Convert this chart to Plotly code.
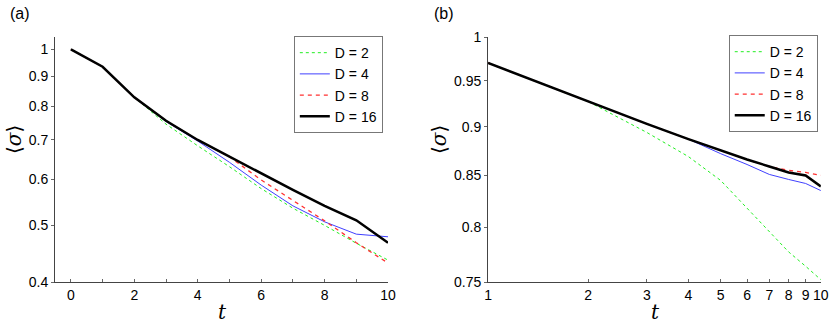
import plotly.graph_objects as go

# panel (a): linear t, log <sigma>
t_a = [0, 1, 2, 3, 4, 5, 6, 7, 8, 9, 10]
a_d2 = [1.0, 0.934, 0.828, 0.745, 0.684, 0.630, 0.578, 0.535, 0.500, 0.466, 0.436]
a_d4 = [1.0, 0.934, 0.828, 0.753, 0.697, 0.641, 0.586, 0.540, 0.507, 0.483, 0.478]
a_d8 = [1.0, 0.934, 0.828, 0.755, 0.700, 0.655, 0.598, 0.552, 0.509, 0.467, 0.431]
a_d16 = [1.0, 0.934, 0.828, 0.755, 0.700, 0.655, 0.613, 0.575, 0.540, 0.510, 0.467]

# panel (b): log t, log <sigma>
t_b = [1, 2, 3, 4, 5, 6, 7, 8, 9, 10]
b_d2 = [0.970, 0.927, 0.894, 0.869, 0.845, 0.818, 0.796, 0.777, 0.764, 0.752]
b_d4 = [0.970, 0.927, 0.903, 0.887, 0.872, 0.861, 0.851, 0.846, 0.842, 0.835]
b_d8 = [0.970, 0.927, 0.903, 0.887, 0.875, 0.866, 0.859, 0.855, 0.853, 0.850]
b_d16 = [0.970, 0.927, 0.903, 0.887, 0.875, 0.866, 0.859, 0.853, 0.850, 0.839]

labels = ["D = 2", "D = 4", "D = 8", "D = 16"]
styles = [
    dict(color="#22ee22", width=1, dash="dot"),
    dict(color="#4040ff", width=1),
    dict(color="#ff3030", width=1.3, dash="4px,4px"),
    dict(color="black", width=2.5),
]

a_ticks = [0.4, 0.5, 0.6, 0.7, 0.8, 0.9, 1]
b_ticks = [0.75, 0.8, 0.85, 0.9, 0.95, 1]

FONT = "Liberation Sans, Arial, sans-serif"

fig = go.Figure()

for name, ys, st in zip(labels, [a_d2, a_d4, a_d8, a_d16], styles):
    fig.add_trace(go.Scatter(x=t_a, y=ys, name=name, mode="lines", line=st,
                             xaxis="x", yaxis="y", legend="legend"))
for name, ys, st in zip(labels, [b_d2, b_d4, b_d8, b_d16], styles):
    fig.add_trace(go.Scatter(x=t_b, y=ys, name=name, mode="lines", line=st,
                             xaxis="x2", yaxis="y2", legend="legend2"))

axis_common = dict(showline=True, linecolor="#444", linewidth=1, showgrid=False,
                   zeroline=False, ticklen=3, tickcolor="#666", automargin=False,
                   tickfont=dict(family=FONT, size=14, color="black"))

leg_common = dict(xanchor="left", yanchor="top", bordercolor="#777", borderwidth=1,
                  bgcolor="white", font=dict(family=FONT, size=14, color="black"),
                  tracegroupgap=0)

fig.update_layout(
    width=830, height=325,
    margin=dict(l=0, r=0, t=0, b=0, autoexpand=False),
    plot_bgcolor="white", paper_bgcolor="white",
    xaxis=dict(domain=[0.0663, 0.4675], range=[-0.5, 10], ticks="inside",
               tickvals=t_a, ticktext=[str(v) if v % 2 == 0 else "" for v in t_a],
               anchor="y", **axis_common),
    yaxis=dict(domain=[0.1323, 0.886], type="log", range=[-0.39794, 0.0212],
               ticks="outside", tickvals=a_ticks, ticktext=[str(v) for v in a_ticks],
               anchor="x", **axis_common),
    xaxis2=dict(domain=[0.588, 0.989], type="log", range=[0, 1], ticks="inside",
                tickvals=t_b, ticktext=[str(v) for v in t_b],
                anchor="y2", **axis_common),
    yaxis2=dict(domain=[0.1323, 0.886], type="log", range=[-0.12494, 0],
                ticks="outside", tickvals=b_ticks, ticktext=[str(v) for v in b_ticks],
                anchor="x2", **axis_common),
    legend=dict(x=0.354, y=0.889, **leg_common),
    legend2=dict(x=0.878, y=0.892, **leg_common),
    showlegend=True,
)

ann = [
    dict(text="(a)", x=8, y=13, font=dict(family=FONT, size=16)),
    dict(text="(b)", x=432, y=13, font=dict(family=FONT, size=16)),
    dict(text="<i>t</i>", x=222, y=312, font=dict(family="DejaVu Serif, serif", size=20)),
    dict(text="<i>t</i>", x=655, y=312, font=dict(family="DejaVu Serif, serif", size=20)),
    dict(text="⟨<i>σ</i>⟩", x=14, y=140, textangle=-90,
         font=dict(family="DejaVu Serif, serif", size=20)),
    dict(text="⟨<i>σ</i>⟩", x=439, y=140, textangle=-90,
         font=dict(family="DejaVu Serif, serif", size=20)),
]
for a in ann:
    fig.add_annotation(text=a["text"], x=a["x"] / 830, y=1 - a["y"] / 325,
                       xref="paper", yref="paper", showarrow=False,
                       xanchor="center" if a["text"] not in ("(a)", "(b)") else "left",
                       yanchor="middle", textangle=a.get("textangle", 0),
                       font=dict(color="black", **a["font"]))

# drop the default page margin so the 830x325 figure sits at the window origin
fig.write_html("out.html", config={"displayModeBar": False},
               post_script="document.body.style.margin='0';")
